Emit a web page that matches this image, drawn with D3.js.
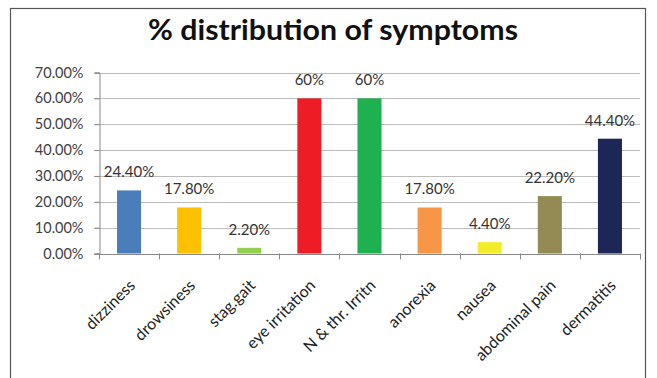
<!DOCTYPE html>
<html><head><meta charset="utf-8">
<script src="https://cdn.jsdelivr.net/npm/d3@7"></script>
<style>body{margin:0;background:#fff}svg{display:block}</style>
</head><body><svg id="c" width="657" height="378"></svg>
<script>
const categories = ["dizziness","drowsiness","stag.gait","eye irritation","N & thr. Irritn","anorexia","nausea","abdominal pain","dermatitis"];
const values = [24.4,17.8,2.2,60,60,17.8,4.4,22.2,44.4];
const valueLabels = ["24.40%","17.80%","2.20%","60%","60%","17.80%","4.40%","22.20%","44.40%"];
const colors = ["#4a7ebb","#ffc000","#92d050","#ee1c25","#1fb050","#f79646","#f2ec2a","#948a54","#1c2757"];
const yTicks = [0,10,20,30,40,50,60,70];
const title = "% distribution of symptoms";

const svg = d3.select("#c");
const font = "Lato, 'Open Sans', sans-serif";
const L = 99, R = 640, T = 72.5, B = 253.5;

svg.append("rect").attr("x",10.5).attr("y",8.5).attr("width",635).attr("height",380)
  .attr("fill","none").attr("stroke","#555").attr("stroke-width",1.2);

svg.append("text").attr("x",148).attr("y",40)
  .attr("textLength",370).attr("lengthAdjust","spacingAndGlyphs")
  .attr("font-family",font).attr("font-weight","bold").attr("font-size",28).attr("fill","#111").text(title);

const x = d3.scaleBand().domain(categories).range([L,R]).paddingInner(0.6).paddingOuter(0.3);
const xc = d3.scaleBand().domain(categories).range([L,R]);
const y = d3.scaleLinear().domain([0,70]).range([B,T]);

// gridlines
svg.append("g").selectAll("line").data(yTicks).join("line")
  .attr("x1",L-5).attr("x2",R).attr("y1",d=>Math.round(y(d))+0.5).attr("y2",d=>Math.round(y(d))+0.5)
  .attr("stroke",d=>d===0?"#888":"#bcbcbc").attr("stroke-width",1);

// y axis
const ya = svg.append("g").attr("transform",`translate(${L+0.5},0)`)
  .call(d3.axisLeft(y).tickValues(yTicks).tickSize(5).tickFormat(d=>d.toFixed(2)+"%"));
ya.select(".domain").attr("stroke","#888");
ya.selectAll(".tick line").attr("stroke","#888");
ya.selectAll("text").attr("font-family",font).attr("font-size",14.5).attr("fill","#404040").attr("x",-16);

// x axis
const xa = svg.append("g").attr("transform",`translate(0,${B+0.5})`)
  .call(d3.axisBottom(xc).tickSize(0).tickFormat(""));
xa.select(".domain").attr("stroke","#888");
svg.append("g").selectAll("line").data(d3.range(categories.length+1)).join("line")
  .attr("x1",i=>Math.round(L+i*xc.step())+0.5).attr("x2",i=>Math.round(L+i*xc.step())+0.5)
  .attr("y1",B).attr("y2",B+6).attr("stroke","#888");

svg.append("g").selectAll("text").data(categories).join("text")
  .attr("transform",d=>`translate(${xc(d)+xc.bandwidth()/2-1},${B+25}) rotate(-45)`)
  .attr("text-anchor","end").attr("dy","0.71em")
  .attr("font-family",font).attr("font-size",16).attr("fill","#222").text(d=>d);

// bars
svg.append("g").selectAll("rect").data(values).join("rect")
  .attr("x",(d,i)=>x(categories[i])).attr("width",x.bandwidth())
  .attr("y",d=>y(d)).attr("height",d=>B-y(d)).attr("fill",(d,i)=>colors[i]);

svg.append("g").selectAll("text").data(values).join("text")
  .attr("x",(d,i)=>xc(categories[i])+xc.bandwidth()/2).attr("y",d=>y(d)-13)
  .attr("text-anchor","middle").attr("font-family",font).attr("font-size",15).attr("fill","#333")
  .text((d,i)=>valueLabels[i]);
</script></body></html>
